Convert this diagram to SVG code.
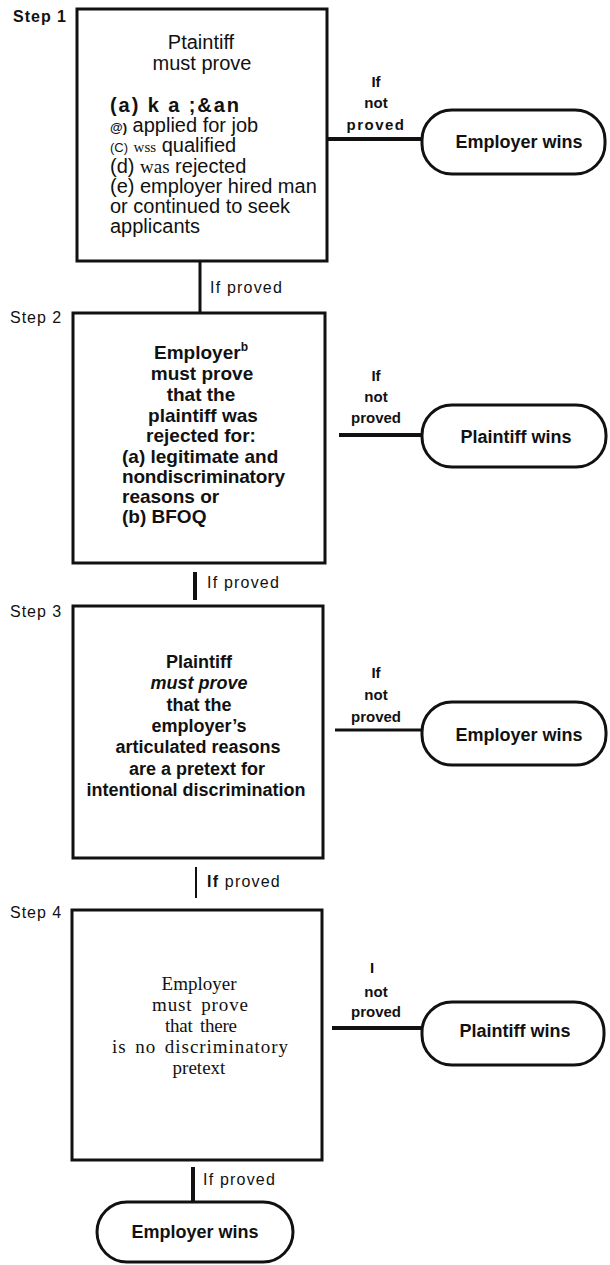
<svg xmlns="http://www.w3.org/2000/svg" width="610" height="1265" viewBox="0 0 610 1265">
<style>
  .box { fill: #fff; stroke: #111; stroke-width: 3; }
  .term { fill: #fff; stroke: #111; stroke-width: 3; }
  .ln { stroke: #111; fill: none; }
  text { font-family: "Liberation Sans", Arial, sans-serif; fill: #111; }
  .b { font-weight: bold; }
  .step { font-size: 16px; letter-spacing: 1px; }
  .lbl { font-size: 15px; text-anchor: middle; font-weight: bold; }
  .tt { font-size: 18px; font-weight: bold; text-anchor: middle; }
  .ip { font-size: 16px; letter-spacing: 1.2px; }
  .t1 { font-size: 20px; }
  .t2 { font-size: 19px; font-weight: bold; }
  .t3 { font-size: 18px; font-weight: bold; text-anchor: middle; }
  .t4 { font-family: "Liberation Serif", "Times New Roman", serif; font-size: 19px; text-anchor: middle; word-spacing: 3px; }
  .ser { font-family: "Liberation Serif", "Times New Roman", serif; }
</style>
<rect width="610" height="1265" fill="#fff"/>

<g id="connectors">
  <line class="ln" x1="200" y1="261" x2="200" y2="313" stroke-width="3"/>
  <line class="ln" x1="195" y1="572" x2="195" y2="600" stroke-width="4"/>
  <line class="ln" x1="196" y1="867" x2="196" y2="898" stroke-width="2"/>
  <line class="ln" x1="193" y1="1167" x2="193" y2="1202" stroke-width="4"/>
  <line class="ln" x1="327" y1="139" x2="422" y2="139" stroke-width="4"/>
  <line class="ln" x1="339" y1="435" x2="422" y2="435" stroke-width="4"/>
  <line class="ln" x1="335" y1="730" x2="422" y2="730" stroke-width="3"/>
  <line class="ln" x1="332" y1="1028" x2="422" y2="1028" stroke-width="4"/>
  <text class="ip" x="210" y="293">If proved</text>
  <text class="ip" x="207" y="588">If proved</text>
  <text class="ip" x="207" y="887"><tspan class="b">If</tspan> proved</text>
  <text class="ip" x="203" y="1185">If proved</text>
  <text class="lbl" x="376" y="87">If</text>
  <text class="lbl" x="376" y="108">not</text>
  <text class="lbl" x="376" y="130" font-weight="normal" letter-spacing="1.5">proved</text>
  <text class="lbl" x="376" y="381">If</text>
  <text class="lbl" x="376" y="402">not</text>
  <text class="lbl" x="376" y="423">proved</text>
  <text class="lbl" x="376" y="678">If</text>
  <text class="lbl" x="376" y="700">not</text>
  <text class="lbl" x="376" y="722">proved</text>
  <text class="lbl" x="372" y="973" font-weight="normal" font-size="13">I</text>
  <text class="lbl" x="376" y="997">not</text>
  <text class="lbl" x="376" y="1017">proved</text>
</g>

<g id="step1">
  <text class="step b" x="13" y="22" font-size="14">Step  1</text>
  <rect class="box" x="77" y="9" width="250" height="252"/>
  <text class="t1" x="201" y="49" text-anchor="middle">Ptaintiff</text>
  <text class="t1" x="202" y="70" text-anchor="middle">must prove</text>
  <text class="t1 b" x="110" y="112" font-size="22" textLength="129">(a) k a ;&amp;an</text>
  <text class="t1" x="110" y="132"><tspan font-size="13" font-weight="bold">@)</tspan> applied for job</text>
  <text class="t1" x="110" y="152"><tspan font-size="13">(C)</tspan> <tspan class="ser" font-size="15">wss</tspan> qualified</text>
  <text class="t1" x="110" y="173">(d) <tspan class="ser" font-size="19">was</tspan> rejected</text>
  <text class="t1" x="110" y="193">(e) employer hired man</text>
  <text class="t1" x="110" y="213">or continued to seek</text>
  <text class="t1" x="110" y="233">applicants</text>
</g>

<g id="step2">
  <text class="step" x="10" y="323">Step 2</text>
  <rect class="box" x="73" y="313" width="252" height="250"/>
  <text class="t2" x="201" y="359" text-anchor="middle">Employer<tspan font-size="12" dy="-8">b</tspan></text>
  <text class="t2" x="202" y="380" text-anchor="middle">must prove</text>
  <text class="t2" x="201" y="401" text-anchor="middle">that the</text>
  <text class="t2" x="203" y="422" text-anchor="middle">plaintiff was</text>
  <text class="t2" x="201" y="442" text-anchor="middle">rejected for:</text>
  <text class="t2" x="122" y="463">(a) legitimate and</text>
  <text class="t2" x="122" y="483" textLength="163">nondiscriminatory</text>
  <text class="t2" x="122" y="503">reasons or</text>
  <text class="t2" x="122" y="523">(b) BFOQ</text>
</g>

<g id="step3">
  <text class="step" x="10" y="617">Step 3</text>
  <rect class="box" x="73" y="606" width="250" height="252"/>
  <text class="t3" x="199" y="668">Plaintiff</text>
  <text class="t3" x="199" y="689" font-style="italic">must prove</text>
  <text class="t3" x="199" y="711">that the</text>
  <text class="t3" x="199" y="732">employer’s</text>
  <text class="t3" x="198" y="753">articulated reasons</text>
  <text class="t3" x="197" y="775">are a pretext for</text>
  <text class="t3" x="196" y="796">intentional discrimination</text>
</g>

<g id="step4">
  <text class="step" x="10" y="918">Step 4</text>
  <rect class="box" x="72" y="910" width="250" height="250"/>
  <text class="t4" x="199" y="990">Employer</text>
  <text class="t4" x="200" y="1011" textLength="96">must prove</text>
  <text class="t4" x="201" y="1032" textLength="72">that there</text>
  <text class="t4" x="200" y="1053" textLength="176">is no discriminatory</text>
  <text class="t4" x="199" y="1074">pretext</text>
</g>

<g id="end1">
  <rect class="term" x="422" y="110" width="183" height="64" rx="30" ry="30"/>
  <text class="tt" x="519" y="148">Employer wins</text>
</g>
<g id="end2">
  <rect class="term" x="422" y="405" width="184" height="62" rx="30" ry="30"/>
  <text class="tt" x="516" y="443">Plaintiff wins</text>
</g>
<g id="end3">
  <rect class="term" x="422" y="702" width="184" height="63" rx="30" ry="30"/>
  <text class="tt" x="519" y="741">Employer wins</text>
</g>
<g id="end4">
  <rect class="term" x="422" y="1002" width="182" height="63" rx="30" ry="30"/>
  <text class="tt" x="515" y="1037">Plaintiff wins</text>
</g>
<g id="end5">
  <rect class="term" x="97" y="1202" width="196" height="60" rx="30" ry="30"/>
  <text class="tt" x="195" y="1238">Employer wins</text>
</g>
</svg>
